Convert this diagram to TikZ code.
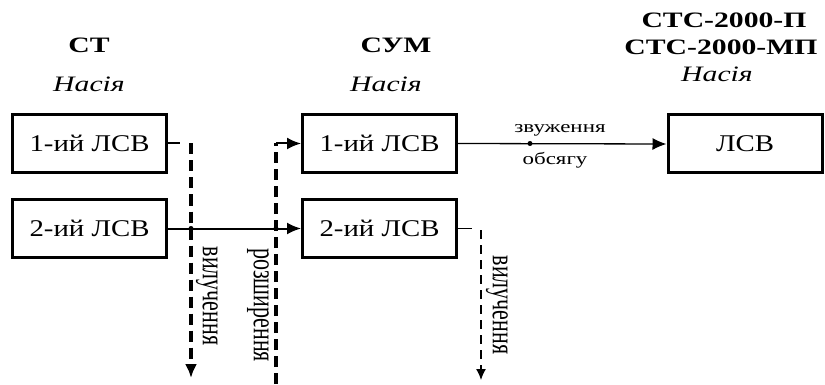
\documentclass[tikz,border=0pt]{standalone}
\usepackage{fontspec}
\usepackage{graphicx}
\setmainfont{Liberation Serif}
\usetikzlibrary{arrows.meta}
\newcommand\wx[1]{\scalebox{1.35}[1]{#1}}
\newcommand\bx[1]{\scalebox{1.2}[1]{#1}}
\newcommand\wy[1]{\scalebox{1}[1.45]{#1}}
\begin{document}
\begin{tikzpicture}[x=1pt,y=-1pt,
 box/.style={draw,line width=3pt,minimum width=154pt,minimum height=58pt,inner sep=0pt,font=\fontsize{24}{28}\selectfont},
 head/.style={font=\fontsize{22}{26}\selectfont\bfseries,inner sep=0pt},
 ital/.style={font=\fontsize{22}{26}\selectfont\itshape,inner sep=0pt},
 lab/.style={font=\fontsize{17}{20}\selectfont,inner sep=0pt},
 vlab/.style={font=\fontsize{22}{24}\selectfont,inner sep=0pt,rotate=-90},
 thickdash/.style={line width=3.5pt,dash pattern=on 11pt off 6pt},
 thindash/.style={line width=1.3pt,dash pattern=on 9pt off 6pt},
 conn/.style={line width=2pt},
 tip/.style={-{Latex[length=14pt,width=12pt]}},
 smalltip/.style={-{Latex[length=11pt,width=10pt]}},
 dot/.style={circle,fill,inner sep=0pt,minimum size=5pt}]
\useasboundingbox (0,0) rectangle (825,385);
% headings
\node[head] (h1) at (89,45) {\wx{СТ}};
\node[ital] (n1) at (89,84) {\wx{Насія}};
\node[head] (h2) at (396,45) {\wx{СУМ}};
\node[ital] (n2) at (386,84) {\wx{Насія}};
\node[head] (h3a) at (724,20) {\wx{СТС-2000-П}};
\node[head] (h3b) at (721,47) {\wx{СТС-2000-МП}};
\node[ital] (n3) at (717,74) {\wx{Насія}};
% boxes
\node[box] (st1) at (89.5,143.5) {\bx{1-ий ЛСВ}};
\node[box] (st2) at (89.5,228.5) {\bx{2-ий ЛСВ}};
\node[box] (sum1) at (379.5,143.5) {\bx{1-ий ЛСВ}};
\node[box] (sum2) at (379.5,228.5) {\bx{2-ий ЛСВ}};
\node[box] (lsv) at (745,144) {\bx{ЛСВ}};
% connectors
\coordinate (a1) at (180,143.5);
\coordinate (d1t) at (191,143.5);
\coordinate (d1b) at (191,378);
\draw[conn] (st1.east) -- (a1);
\draw[thickdash,tip] (d1t) -- (d1b);
\draw[conn,tip] (st2.east) -- (sum2.west);
\node[dot] (x1) at (191,228.5) {};
\node[dot] (x2) at (276,228.5) {};
\coordinate (d2b) at (276,384);
\coordinate (d2t) at (276,143.5);
\draw[thickdash] (d2b) -- (d2t);
\draw[conn,tip] (d2t) -- (sum1.west);
\draw[line width=1.3pt,tip] (sum1.east) -- (lsv.west);
\node[dot] (x3) at (530,143.5) {};
\coordinate (a2) at (472,228.5);
\coordinate (d3t) at (481,230);
\coordinate (d3b) at (481,380);
\draw[line width=1.3pt] (sum2.east) -- (a2);
\draw[thindash,smalltip] (d3t) -- (d3b);
% labels
\node[lab] (l1) at (560,130) {\wx{звуження}};
\node[lab] (l2) at (555,160) {\wx{обсягу}};
\node[vlab] (v1) at (207,296) {\wy{вилучення}};
\node[vlab] (v2) at (258,305) {\wy{розширення}};
\node[vlab] (v3) at (497,305) {\wy{вилучення}};
\end{tikzpicture}
\end{document}
